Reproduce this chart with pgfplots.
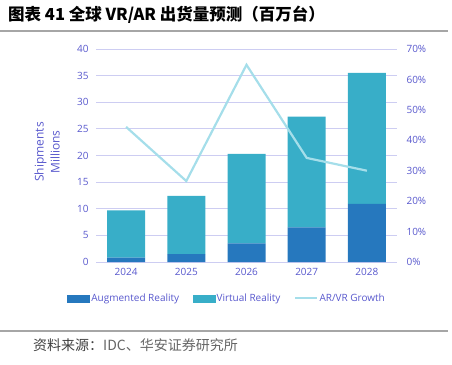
\documentclass[border=0pt]{standalone}
\usepackage{pgfplots}
\pgfplotsset{compat=1.18}
\usepackage{fontspec}
\setmainfont{Open Sans}
\newfontfamily\cjk{Noto Sans CJK SC}
\definecolor{lab}{RGB}{88,88,205}
\definecolor{gridc}{RGB}{205,205,242}
\definecolor{arc}{RGB}{38,120,190}
\definecolor{vrc}{RGB}{56,174,200}
\definecolor{grc}{RGB}{165,222,234}
\begin{document}
\begin{tikzpicture}[x=1pt,y=1pt]
\path[use as bounding box] (0,0) rectangle (452,364);
\node[anchor=west,inner sep=0] at (8,349) {\cjk\bfseries\fontsize{16.5}{18}\selectfont 图表 41 全球 VR/AR 出货量预测（百万台）};
\draw[gray!70,line width=1.3pt] (0,333) -- (448,333);
\draw[gray!70,line width=1.3pt] (0,33) -- (448,33);
\node[anchor=west,inner sep=0] at (33,19) {\cjk\fontsize{14}{16}\selectfont \textcolor{black!75}{资料来源：}\textcolor{black!60}{IDC、华安证券研究所}};
\node[rotate=90,align=center,text=lab,font=\fontsize{12}{16}\selectfont] at (47,212) {Shipments\\Millions};
\begin{axis}[
  at={(96pt,102pt)}, anchor=south west, scale only axis,
  width=301pt, height=213pt,
  ybar stacked, bar width=38pt,
  xmin=-0.5, xmax=4.5, ymin=0, ymax=40,
  ytick={0,5,...,40}, xtick=data,
  xticklabels={2024,2025,2026,2027,2028},
  axis line style={draw=none}, tick style={draw=none},
  ymajorgrids, grid style={gridc,line width=1pt},
  tick label style={text=lab,font=\fontsize{10}{11}\selectfont},
  /pgf/number format/assume math mode=true,
  yticklabel style={xshift=-4pt},
  xticklabel style={yshift=-3pt},
  legend style={at={(0.435,-0.17)},anchor=center,draw=none,fill=none,
    legend columns=3, font=\fontsize{10}{11}\selectfont, text=lab,
    /tikz/every even column/.append style={column sep=12pt},
    nodes={inner xsep=1.5pt}},
]
\addplot[fill=arc,draw=none,forget plot] coordinates {(0,0.8) (1,1.5) (2,3.5) (3,6.5) (4,10.9)};
\addplot[fill=vrc,draw=none,forget plot] coordinates {(0,8.9) (1,10.9) (2,16.8) (3,20.8) (4,24.6)};
\addlegendimage{legend image code/.code={\fill[arc] (-1pt,-3.5pt) rectangle (21pt,3.5pt);}}
\addlegendentry{Augmented Reality}
\addlegendimage{legend image code/.code={\fill[vrc] (-1pt,-3.5pt) rectangle (21pt,3.5pt);}}
\addlegendentry{Virtual Reality}
\addlegendimage{legend image code/.code={\draw[grc,line width=2pt] (-1pt,0) -- (21pt,0);}}
\addlegendentry{AR/VR Growth}
\end{axis}
\begin{axis}[
  at={(96pt,102pt)}, anchor=south west, scale only axis,
  width=301pt, height=213pt,
  xmin=-0.5, xmax=4.5, ymin=0, ymax=0.7,
  axis y line*=right, axis x line=none,
  axis line style={draw=none}, tick style={draw=none},
  ytick={0,0.1,0.2,0.3,0.4,0.5,0.6,0.7},
  yticklabels={0\%,10\%,20\%,30\%,40\%,50\%,60\%,70\%},
  tick label style={text=lab,font=\fontsize{10}{11}\selectfont},
  yticklabel style={xshift=6pt},
]
\addplot[grc,line width=2.2pt,mark=none] coordinates {(0,0.444) (1,0.266) (2,0.648) (3,0.342) (4,0.30)};
\end{axis}
\end{tikzpicture}
\end{document}
